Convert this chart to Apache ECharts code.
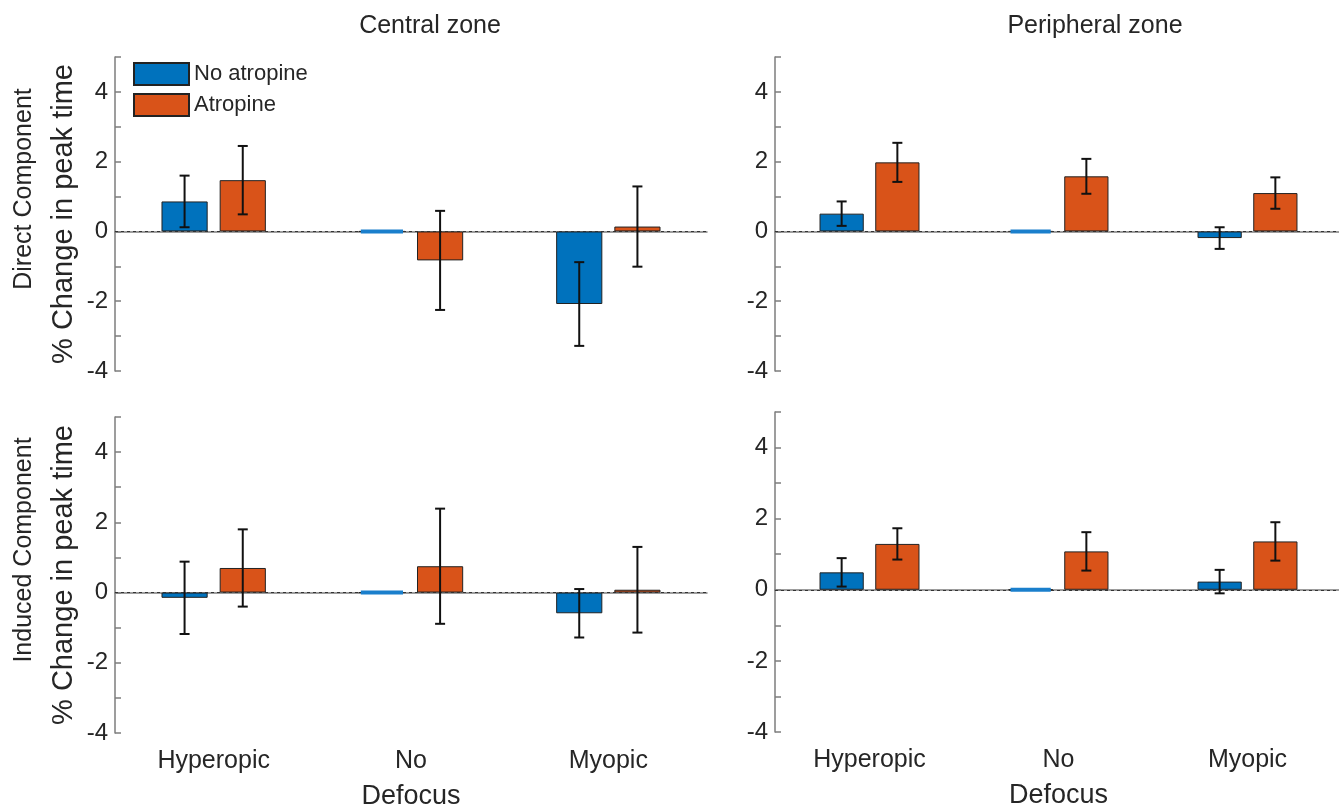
<!DOCTYPE html>
<html>
<head>
<meta charset="utf-8">
<script src="https://cdn.jsdelivr.net/npm/echarts@6/dist/echarts.min.js"></script>
<style>
  html, body { margin: 0; padding: 0; background: #fff; }
  #main { width: 1339px; height: 806px; }
</style>
</head>
<body>
<div id="main"></div>
<script>
// data
const categories = ['Hyperopic', 'No', 'Myopic'];
const yTicks = [-4, -2, 0, 2, 4];

// central zone, direct component
const cdNoAtr = [0.86, 0, -2.08];
const cdNoAtrErr = [0.74, null, 1.2];
const cdAtr = [1.47, -0.83, 0.14];
const cdAtrErr = [0.98, 1.42, 1.15];
// peripheral zone, direct component
const pdNoAtr = [0.51, 0, -0.19];
const pdNoAtrErr = [0.35, null, 0.31];
const pdAtr = [1.98, 1.58, 1.1];
const pdAtrErr = [0.56, 0.5, 0.45];
// central zone, induced component
const ciNoAtr = [-0.15, 0, -0.59];
const ciNoAtrErr = [1.03, null, 0.69];
const ciAtr = [0.7, 0.75, 0.08];
const ciAtrErr = [1.1, 1.64, 1.22];
// peripheral zone, induced component
const piNoAtr = [0.49, 0, 0.23];
const piNoAtrErr = [0.4, null, 0.33];
const piAtr = [1.29, 1.08, 1.36];
const piAtrErr = [0.44, 0.54, 0.54];

const BLUE = '#0072BD';
const ORANGE = '#D95319';
const TXT = '#262626';
const AX = '#7d7d7d';
const FONT = '"Liberation Sans", Arial, Helvetica, sans-serif';
const BAR_W = 0.234;
const GAP = 0.26;

let chart = echarts.init(document.getElementById('main'));

let grids = [
    { left: 115, top: 57, width: 592, height: 314, outerBoundsMode: 'none' },
    { left: 775, top: 57, width: 567, height: 314, outerBoundsMode: 'none' },
    { left: 115, top: 417, width: 592, height: 316, outerBoundsMode: 'none' },
    { left: 775, top: 412, width: 567, height: 320, outerBoundsMode: 'none' }
];

let panels = [
    { noAtr: cdNoAtr, noErr: cdNoAtrErr, atr: cdAtr, atrErr: cdAtrErr },
    { noAtr: pdNoAtr, noErr: pdNoAtrErr, atr: pdAtr, atrErr: pdAtrErr },
    { noAtr: ciNoAtr, noErr: ciNoAtrErr, atr: ciAtr, atrErr: ciAtrErr },
    { noAtr: piNoAtr, noErr: piNoAtrErr, atr: piAtr, atrErr: piAtrErr }
];
let rowNames = ['Direct Component', '', 'Induced Component', ''];

let xAxes = [], yAxes = [], series = [];

function errData(values, errs) {
    return values.map(function (v, i) {
        return [i, v, errs[i] == null ? 0 : errs[i]];
    });
}

// error bars; a zero-height bar is drawn as a flat stroke in the bar colour
function errRender(side, color) {
    return function (params, api) {
        let idx = api.value(0), m = api.value(1), e = api.value(2);
        let band = api.size([1, 0])[0];
        let off = side * band * BAR_W * (1 + GAP) / 2;
        let c = api.coord([idx, m]);
        let x = c[0] + off;
        let children = [];
        if (m === 0) {
            let hw = band * BAR_W / 2 - 2;
            children.push({ type: 'line', shape: { x1: x - hw, y1: c[1], x2: x + hw, y2: c[1] },
                style: { stroke: color, lineWidth: 4 } });
        }
        if (e) {
            let top = api.coord([idx, m + e]);
            let bot = api.coord([idx, m - e]);
            let cap = 5;
            let style = { stroke: '#111', lineWidth: 2 };
            children.push(
                { type: 'line', shape: { x1: x, y1: top[1], x2: x, y2: bot[1] }, style: style },
                { type: 'line', shape: { x1: x - cap, y1: top[1], x2: x + cap, y2: top[1] }, style: style },
                { type: 'line', shape: { x1: x - cap, y1: bot[1], x2: x + cap, y2: bot[1] }, style: style }
            );
        }
        return { type: 'group', children: children };
    };
}

panels.forEach(function (p, i) {
    let bottomRow = i >= 2;
    xAxes.push({
        type: 'category',
        gridIndex: i,
        data: categories,
        name: bottomRow ? 'Defocus' : '',
        nameLocation: 'middle',
        nameGap: 50,
        nameTextStyle: { color: TXT, fontSize: 27, fontFamily: FONT },
        axisLine: { lineStyle: { color: AX, width: 1.5 } },
        axisTick: { alignWithLabel: true, inside: true, length: 6, lineStyle: { color: AX, width: 1.5 } },
        axisLabel: { show: bottomRow, color: TXT, fontSize: 25, fontFamily: FONT, margin: 16 },
        splitLine: { show: false }
    });
    yAxes.push({
        type: 'value',
        gridIndex: i,
        min: -4,
        max: 5,
        interval: 1,
        name: rowNames[i] ? '{a|' + rowNames[i] + '}\n{b|% Change in peak time}' : '',
        nameLocation: 'middle',
        nameRotate: 90,
        nameGap: 31,
        nameTextStyle: {
            color: TXT, fontFamily: FONT,
            rich: {
                a: { fontSize: 25, lineHeight: 40, color: TXT, fontFamily: FONT, padding: [0, 0, 0, 50] },
                b: { fontSize: 29, lineHeight: 40, color: TXT, fontFamily: FONT }
            }
        },
        axisLine: { show: true, lineStyle: { color: AX, width: 1.5 } },
        axisTick: { show: true, inside: true, length: 6, lineStyle: { color: AX, width: 1.5 } },
        axisLabel: {
            color: TXT, fontSize: 24, fontFamily: FONT, margin: 7,
            formatter: function (v) { return yTicks.indexOf(v) >= 0 ? String(v) : ''; }
        },
        splitLine: { show: false }
    });
    // dashed zero line, under the bars
    series.push({
        type: 'line',
        xAxisIndex: i,
        yAxisIndex: i,
        z: 1,
        data: [],
        markLine: {
            silent: true,
            symbol: 'none',
            label: { show: false },
            lineStyle: { color: '#333', type: [3, 3], width: 1 },
            data: [{ yAxis: 0 }]
        }
    });
    series.push({
        name: 'No atropine',
        type: 'bar',
        xAxisIndex: i,
        yAxisIndex: i,
        z: 3,
        barWidth: (BAR_W * 100) + '%',
        barGap: (GAP * 100) + '%',
        itemStyle: { color: BLUE, borderColor: '#222', borderWidth: 1 },
        data: p.noAtr
    });
    series.push({
        name: 'Atropine',
        type: 'bar',
        xAxisIndex: i,
        yAxisIndex: i,
        z: 3,
        barWidth: (BAR_W * 100) + '%',
        barGap: (GAP * 100) + '%',
        itemStyle: { color: ORANGE, borderColor: '#222', borderWidth: 1 },
        data: p.atr
    });
    series.push({
        type: 'custom',
        xAxisIndex: i,
        yAxisIndex: i,
        z: 5,
        silent: true,
        renderItem: errRender(-1, '#1a7fcc'),
        encode: { x: 0, y: 1 },
        data: errData(p.noAtr, p.noErr)
    });
    series.push({
        type: 'custom',
        xAxisIndex: i,
        yAxisIndex: i,
        z: 5,
        silent: true,
        renderItem: errRender(1, ORANGE),
        encode: { x: 0, y: 1 },
        data: errData(p.atr, p.atrErr)
    });
});

let option = {
    animation: false,
    backgroundColor: '#fff',
    title: [
        { text: 'Central zone', left: 425, top: 9, textAlign: 'center',
          textStyle: { color: TXT, fontSize: 25, fontWeight: 'normal', fontFamily: FONT } },
        { text: 'Peripheral zone', left: 1090, top: 9, textAlign: 'center',
          textStyle: { color: TXT, fontSize: 25, fontWeight: 'normal', fontFamily: FONT } }
    ],
    legend: {
        data: ['No atropine', 'Atropine'],
        orient: 'vertical',
        left: 128,
        top: 57,
        itemWidth: 55,
        itemHeight: 22,
        itemGap: 7,
        icon: 'rect',
        textStyle: { color: TXT, fontSize: 22, fontFamily: FONT }
    },
    grid: grids,
    xAxis: xAxes,
    yAxis: yAxes,
    series: series
};
chart.setOption(option);
window.onresize = function () {
    chart.resize();
};
</script>
</body>
</html>
